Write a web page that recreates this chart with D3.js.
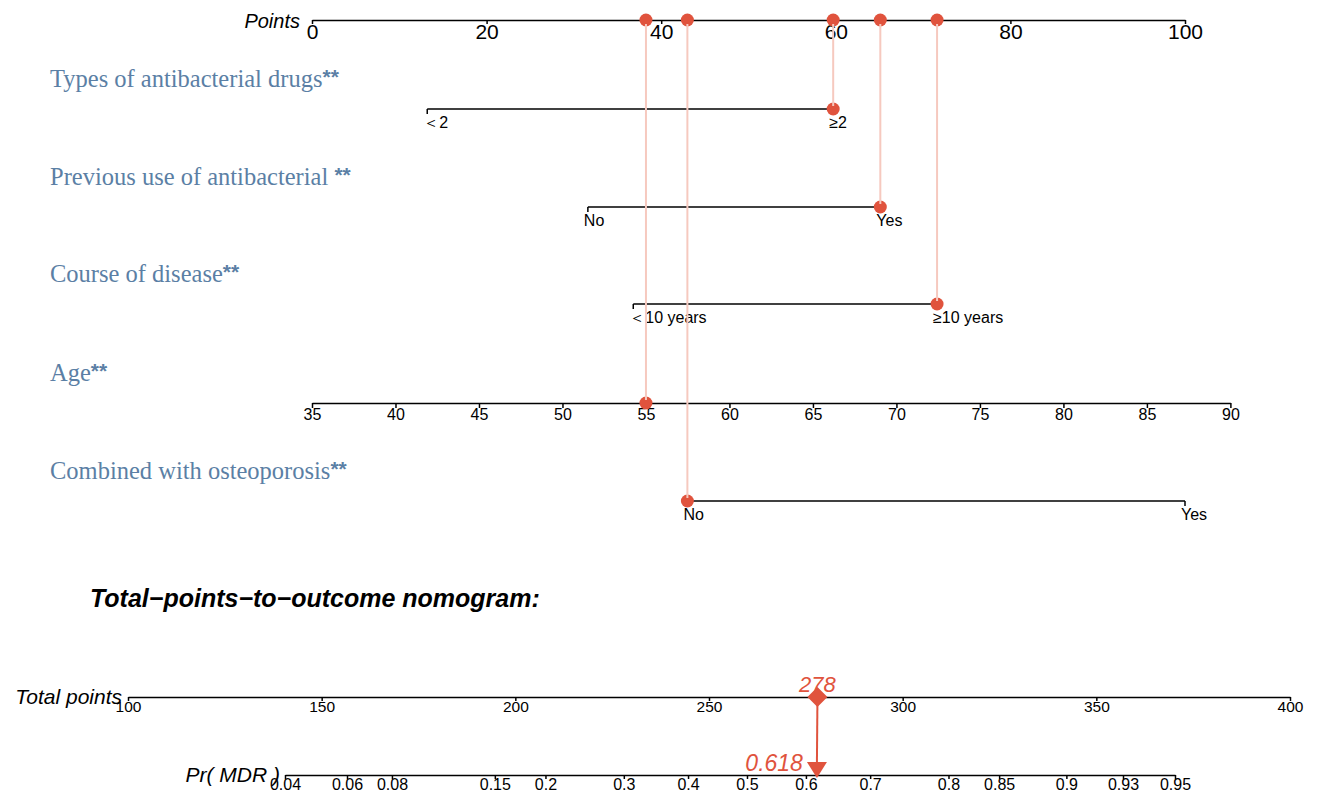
<!DOCTYPE html>
<html>
<head>
<meta charset="utf-8">
<script src="https://cdn.jsdelivr.net/npm/d3@7"></script>
<style>
  body { margin: 0; background: #fff; }
  #chart { width: 1319px; height: 798px; }
  .axis path, .axis line { stroke: #000; stroke-width: 1.5px; }
</style>
</head>
<body>
<div id="chart"></div>
<script>
// ---- data ----
const pointTicks = [0, 20, 40, 60, 80, 100]

const varNames = ["Types of antibacterial drugs", "Previous use of antibacterial ", "Course of disease", "Age", "Combined with osteoporosis"]
const varLevels = [["＜2", "≥2"], ["No", "Yes"], ["＜10 years", "≥10 years"], null, ["No", "Yes"]]
const varPoints = [[13.2, 59.7], [31.6, 65.1], [36.8, 71.6], null, [43.0, 100]]

// age is continuous: 35 -> 0 points, 90 -> 105.2 points
const ageTicks = [35, 40, 45, 50, 55, 60, 65, 70, 75, 80, 85, 90]
const ageRange = [35, 90]
const agePointRange = [0, 105.2]

// the patient shown
const chosenLevel = [1, 1, 1, null, 0]
const chosenAge = 55
const totalScore = 278
const predProb = 0.618

const totalTicks = [100, 150, 200, 250, 300, 350, 400]
const prTicks = [0.04, 0.06, 0.08, 0.15, 0.2, 0.3, 0.4, 0.5, 0.6, 0.7, 0.8, 0.85, 0.9, 0.93, 0.95]

class Nomogram {
    constructor(parentElement) {
        this.parentElement = parentElement
        this.initVis()
    }

    initVis() {
        let vis = this
        vis.red = "#e0533d"
        vis.pink = "#f6c9bf"
        vis.blue = "#5b7fa5"

        vis.svg = d3.select("#" + vis.parentElement).append("svg")
            .attr("width", 1319)
            .attr("height", 798)
            .attr("font-family", "'Liberation Sans', Arial, sans-serif")

        vis.x = d3.scaleLinear().domain([0, 100]).range([312, 1185])
        vis.age = d3.scaleLinear().domain(ageRange).range(agePointRange.map(vis.x))
        vis.total = d3.scaleLinear().domain([100, 400]).range([128, 1290])

        let logit = p => Math.log(p / (1 - p))
        vis.logit = logit
        vis.pr = d3.scaleLinear().domain([logit(0.04), logit(0.95)]).range([285, 1175])

        vis.rowY = [109, 207, 304, 403, 501]

        this.updateVis()
    }

    updateVis() {
        let vis = this

        // Points axis
        let pAxis = vis.svg.append("g").attr("class", "axis")
            .attr("transform", "translate(0,20)")
            .call(d3.axisBottom(vis.x).tickValues(pointTicks).tickSize(4).tickSizeOuter(0).tickFormat(d3.format("d")))
        pAxis.selectAll("text").attr("font-size", 21).attr("dy", "0.76em").attr("y", 3).attr("fill", "#000")
        vis.svg.append("text").attr("x", 300).attr("y", 28).attr("text-anchor", "end")
            .attr("font-size", 20).attr("font-style", "italic").text("Points")

        // variable labels
        varNames.forEach((name, i) => {
            let t = vis.svg.append("text").attr("x", 50).attr("y", vis.rowY[i] - 22)
                .attr("font-family", "'Liberation Serif', 'DejaVu Serif', serif")
                .attr("font-size", 24.5).attr("fill", vis.blue).text(name)
            t.append("tspan").attr("font-family", "'Liberation Sans', sans-serif")
                .attr("font-weight", "bold").attr("font-size", 21).attr("dy", -3).text("**")
        })

        // categorical rows
        varLevels.forEach((levels, i) => {
            if (!levels) return
            let y = vis.rowY[i]
            let pts = varPoints[i]
            let g = vis.svg.append("g")
            g.append("line").attr("x1", vis.x(d3.min(pts))).attr("x2", vis.x(d3.max(pts)))
                .attr("y1", y).attr("y2", y).attr("stroke", "#000").attr("stroke-width", 1.5)
            g.selectAll("line.tk").data(pts).enter().append("line").attr("class", "tk")
                .attr("x1", d => vis.x(d)).attr("x2", d => vis.x(d))
                .attr("y1", y).attr("y2", y + 5).attr("stroke", "#000").attr("stroke-width", 1.5)
            g.selectAll("text").data(levels).enter().append("text")
                .attr("x", (d, j) => vis.x(pts[j]) - 4).attr("y", y + 19)
                .attr("font-size", 16).text(d => d)
        })

        // age row
        let aAxis = vis.svg.append("g").attr("class", "axis")
            .attr("transform", `translate(0,${vis.rowY[3]})`)
            .call(d3.axisBottom(vis.age).tickValues(ageTicks).tickSize(5).tickSizeOuter(0))
        aAxis.selectAll("text").attr("font-size", 16).attr("fill", "#000").attr("y", 6)

        // selected values -> points
        let sel = varPoints.map((p, i) => p ? { x: vis.x(p[chosenLevel[i]]), y: vis.rowY[i] } : { x: vis.age(chosenAge), y: vis.rowY[i] })

        vis.svg.selectAll("circle.top").data(sel).enter().append("circle").attr("class", "top")
            .attr("cx", d => d.x).attr("cy", 20).attr("r", 6.5).attr("fill", vis.red)
        vis.svg.selectAll("circle.row").data(sel).enter().append("circle").attr("class", "row")
            .attr("cx", d => d.x).attr("cy", d => d.y).attr("r", 6.5).attr("fill", vis.red)
        vis.svg.selectAll("line.link").data(sel).enter().append("line").attr("class", "link")
            .attr("x1", d => d.x).attr("x2", d => d.x).attr("y1", 24).attr("y2", d => d.y - 3)
            .attr("stroke", vis.pink).attr("stroke-width", 2)

        // title
        vis.svg.append("text").attr("x", 90).attr("y", 607).attr("font-size", 25)
            .attr("font-weight", "bold").attr("font-style", "italic")
            .text("Total\u2212points\u2212to\u2212outcome nomogram:")

        // total points axis
        let tAxis = vis.svg.append("g").attr("class", "axis")
            .attr("transform", "translate(0,697)")
            .call(d3.axisBottom(vis.total).tickValues(totalTicks).tickSize(4).tickSizeOuter(0))
        tAxis.selectAll("text").attr("font-size", 15.5).attr("fill", "#000").attr("y", 4)
        vis.svg.append("text").attr("x", 122).attr("y", 704).attr("text-anchor", "end")
            .attr("font-size", 21).attr("font-style", "italic").text("Total points")

        // probability axis
        let rAxis = vis.svg.append("g").attr("class", "axis")
            .attr("transform", "translate(0,775)")
            .call(d3.axisBottom(vis.pr).tickValues(prTicks.map(vis.logit)).tickSize(4).tickSizeOuter(0)
                .tickFormat((d, i) => prTicks[i]))
        rAxis.selectAll("text").attr("font-size", 16).attr("fill", "#000").attr("y", 4)
        vis.svg.append("text").attr("x", 280).attr("y", 782).attr("text-anchor", "end")
            .attr("font-size", 21).attr("font-style", "italic").text("Pr( MDR )")

        // score marker and arrow
        let tx = vis.total(totalScore)
        let px = vis.pr(vis.logit(predProb))
        vis.svg.append("line").attr("x1", tx).attr("x2", px).attr("y1", 697).attr("y2", 765)
            .attr("stroke", vis.red).attr("stroke-width", 2)
        vis.svg.append("path").attr("d", d3.symbol(d3.symbolSquare, 200)())
            .attr("transform", `translate(${tx},697) rotate(45)`).attr("fill", vis.red)
        vis.svg.append("path").attr("d", `M${px - 10},762 L${px + 10},762 L${px},778 Z`).attr("fill", vis.red)
        vis.svg.append("text").attr("x", tx).attr("y", 692).attr("text-anchor", "middle")
            .attr("font-size", 22).attr("font-style", "italic").attr("fill", vis.red).text(totalScore)
        vis.svg.append("text").attr("x", px - 14).attr("y", 771).attr("text-anchor", "end")
            .attr("font-size", 23).attr("font-style", "italic").attr("fill", vis.red).text(predProb)
    }
}

new Nomogram("chart")
</script>
</body>
</html>
